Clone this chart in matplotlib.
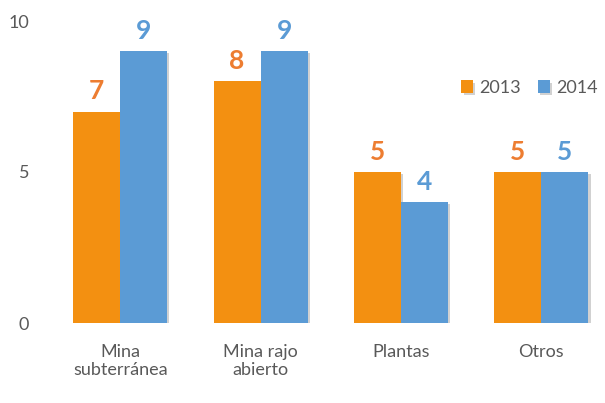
import numpy as np
import matplotlib.pyplot as plt
import matplotlib.patheffects as pe

# Datos
categorias = ['Mina\nsubterránea', 'Mina rajo\nabierto', 'Plantas', 'Otros']
valores_2013 = [7, 8, 5, 5]
valores_2014 = [9, 9, 4, 5]
ticks_y = [0, 5, 10]

naranja = '#F39011'
azul = '#5B9BD5'
gris = '#595959'

plt.rcParams['font.family'] = ['Lato', 'DejaVu Sans']

fig = plt.figure(figsize=(6.05, 4.03), dpi=100)
ax = fig.add_axes([50 / 605, 80 / 403, 555 / 605, 302 / 403])

x = np.arange(len(categorias))
ancho = 0.335
sombra = [pe.SimplePatchShadow(offset=(1.5, -1.5), shadow_rgbFace='#000000', alpha=0.18), pe.Normal()]

b1 = ax.bar(x - ancho / 2, valores_2013, ancho, color=naranja, label='2013', path_effects=sombra)
b2 = ax.bar(x + ancho / 2, valores_2014, ancho, color=azul, label='2014', path_effects=sombra)

for barras, col in [(b1, '#ED7D31'), (b2, azul)]:
    for b in barras:
        ax.annotate(f'{b.get_height():.0f}', (b.get_x() + b.get_width() / 2, b.get_height()),
                    xytext=(0, 6), textcoords='offset points', ha='center', va='bottom',
                    fontsize=19, fontweight='bold', color=col)

ax.set_xlim(-0.5, 3.453)
ax.set_ylim(0, 10)
ax.set_yticks(ticks_y)
ax.set_xticks(x)
ax.set_xticklabels(categorias, fontsize=13, color=gris, linespacing=1.2)
ax.tick_params(axis='y', length=0, pad=15, labelsize=13, labelcolor=gris)
ax.tick_params(axis='x', length=0, pad=15)
for s in ax.spines.values():
    s.set_visible(False)

ax.legend(loc='center right', bbox_to_anchor=(598 / 605, 0.782), bbox_transform=fig.transFigure,
          ncol=2, frameon=False, fontsize=13, borderpad=0, borderaxespad=0,
          handlelength=0.65, handleheight=0.65, handletextpad=0.35, columnspacing=0.95, labelcolor=gris)

fig.savefig('out.png', dpi=100)
